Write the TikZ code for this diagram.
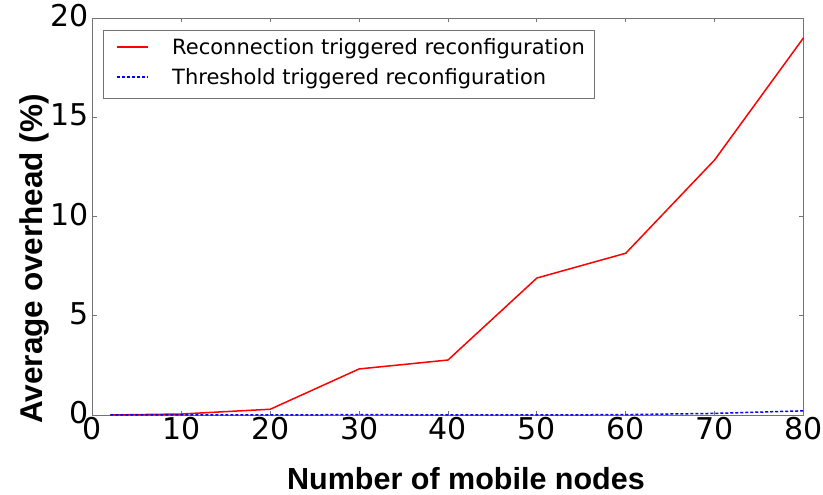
\documentclass[tikz,border=0pt]{standalone}
\usepackage{fontspec}
\setmainfont{DejaVu Sans}
\newfontfamily\labfont{Liberation Sans}
\begin{document}
\begin{tikzpicture}[x=1pt,y=1pt,
  frame/.style={draw=black!55, line width=0.9pt},
  tickmark/.style={draw=black!55, line width=0.8pt},
  ticklab/.style={font=\fontsize{30}{30}\selectfont, inner sep=0pt},
  axlab/.style={font=\labfont\bfseries\fontsize{30.5}{30.5}\selectfont, inner sep=0pt},
  legtext/.style={font=\fontsize{21}{21}\selectfont, inner sep=0pt, anchor=base west},
  redline/.style={draw=red, line width=1.5pt, line join=round},
  blueline/.style={draw=blue, line width=1.5pt, dash pattern=on 3pt off 2pt}]
\useasboundingbox (0,0) rectangle (823,495);
% axes frame
\draw[frame] (92.5,80) rectangle (803,477);
% ticks
\foreach \v in {0,10,...,80}{
  \pgfmathsetmacro{\xx}{92.5+\v*8.8875}
  \draw[tickmark] (\xx,80) -- (\xx,84);
  \draw[tickmark] (\xx,477) -- (\xx,473);
  \node[ticklab, anchor=base] (xt\v) at (\xx,55) {\v};
}
\foreach \v in {0,5,10,15,20}{
  \pgfmathsetmacro{\yy}{80+\v*19.85}
  \draw[tickmark] (92.5,\yy) -- (96.5,\yy);
  \draw[tickmark] (803,\yy) -- (799,\yy);
  \node[ticklab, anchor=east] (yt\v) at (89,\yy+2) {\v};
}
% data
\begin{scope}[shift={(92.5,80)}, x=8.8875pt, y=19.85pt]
  \draw[redline] plot coordinates {(2,0) (10,0.05) (20,0.29) (30,2.32) (40,2.77) (50,6.9) (60,8.15) (70,12.85) (80,19.0)};
  \draw[blueline] plot coordinates {(2,0) (10,0) (20,0) (30,0.02) (40,0) (50,0) (60,0.02) (70,0.08) (80,0.21)};
\end{scope}
% axis labels
\node[axlab, anchor=base] (xlab) at (466,5) {Number of mobile nodes};
\node[axlab, anchor=base, rotate=90, font=\labfont\bfseries\fontsize{31.5}{31.5}\selectfont] (ylab) at (42,236) {Average overhead (\%)};
% legend
\node[draw=black!55, line width=0.9pt, fill=white, minimum width=491pt, minimum height=68pt, anchor=north west, inner sep=0pt] (leg) at (103,465) {};
\coordinate (r1) at (117,448);
\coordinate (r2) at (148,448);
\coordinate (b1) at (117,418);
\coordinate (b2) at (148,418);
\draw[redline] (r1) -- (r2);
\draw[blueline] (b1) -- (b2);
\node[legtext] (l1) at (172,440) {Reconnection triggered reconfiguration};
\node[legtext] (l2) at (172,410) {Threshold triggered reconfiguration};
\end{tikzpicture}
\end{document}
